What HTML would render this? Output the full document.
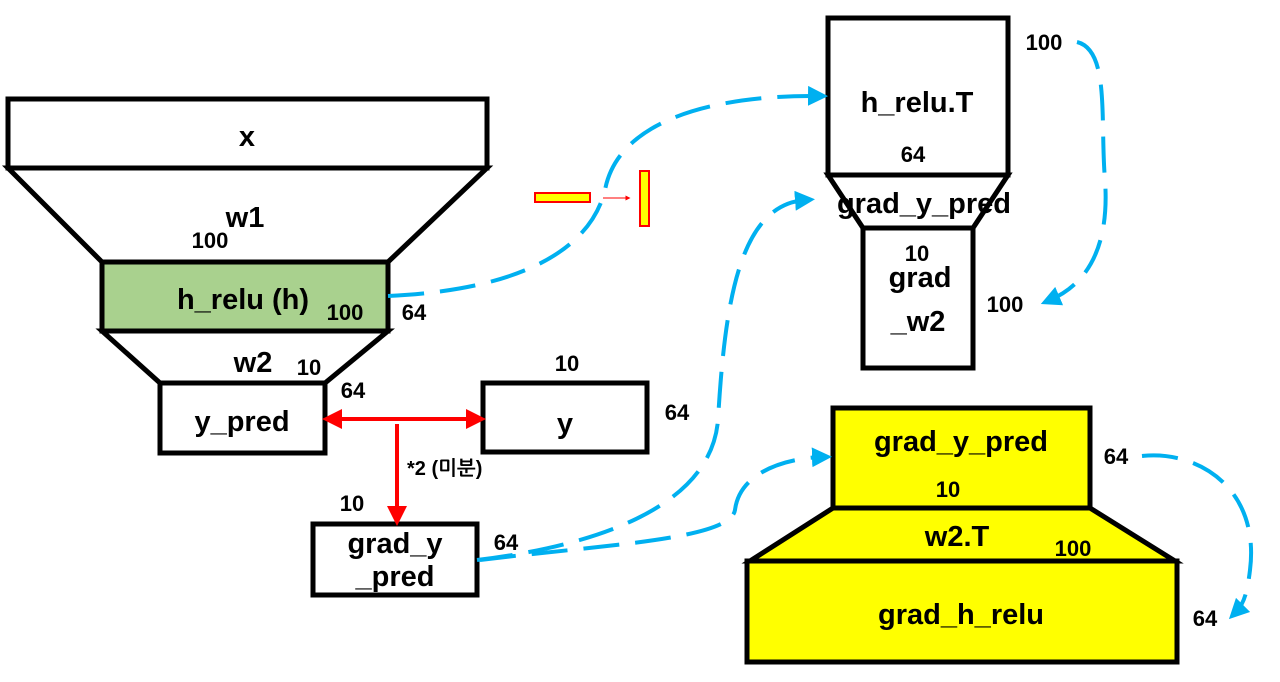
<!DOCTYPE html>
<html><head><meta charset="utf-8"><style>
body{margin:0;background:#fff}
svg text{font-family:"Liberation Sans","NanumGothic",sans-serif;font-weight:bold;fill:#000}
</style></head><body>
<svg width="1280" height="677" viewBox="0 0 1280 677" xmlns="http://www.w3.org/2000/svg">
<defs>
<marker id="bl" markerWidth="5" markerHeight="5" refX="2.5" refY="2.5" orient="auto" markerUnits="strokeWidth"><path d="M0,0 L5,2.5 L0,5 z" fill="#00b0f0"/></marker>
<marker id="rd" markerWidth="5" markerHeight="5" refX="2.5" refY="2.5" orient="auto-start-reverse" markerUnits="strokeWidth"><path d="M0,0 L5,2.5 L0,5 z" fill="#f00"/></marker>
</defs>
<g stroke="#000" stroke-width="5" fill="#fff" stroke-linejoin="miter">
<rect x="8" y="99" width="479" height="69"/>
<polygon points="8,168 487,168 388,262 102,262"/>
<rect x="102" y="262" width="286" height="69" fill="#a9d18e"/>
<polygon points="102,331 388,331 325,383 160,383"/>
<rect x="160" y="383" width="165" height="70"/>
<rect x="483" y="383" width="164" height="69"/>
<rect x="313" y="524" width="164" height="71"/>
<rect x="828" y="18" width="180" height="157"/>
<polygon points="828,175 1008,175 973,228 863,228"/>
<rect x="863" y="228" width="110" height="140"/>
<rect x="833" y="408" width="257" height="100" fill="#ff0"/>
<polygon points="833,508 1090,508 1175,561 750,561" fill="#ff0"/>
<rect x="747" y="561" width="430" height="101" fill="#ff0"/>
</g>
<rect x="535" y="193" width="55" height="9" fill="#ff0" stroke="#f00" stroke-width="2"/>
<rect x="640" y="171" width="9" height="55" fill="#ff0" stroke="#f00" stroke-width="2"/>
<line x1="603" y1="198" x2="628" y2="198" stroke="#f00" stroke-width="1" marker-end="url(#rd)"/>
<g stroke="#00b0f0" stroke-width="4" fill="none" stroke-dasharray="36 16">
<path d="M388,296 C520,290 590,250 605,190 C620,110 740,95 818,96" marker-end="url(#bl)"/>
<path d="M477,560 C560,550 710,520 718,420 C725,300 740,205 805,200" marker-end="url(#bl)"/>
<path d="M480,560 C600,545 730,540 735,510 C740,470 790,458 822,457" marker-end="url(#bl)"/>
<path d="M1077,42 C1110,50 1100,120 1105,180 C1110,250 1085,285 1050,300" marker-end="url(#bl)"/>
<path d="M1142,456 C1200,450 1260,490 1250,570 C1247,595 1243,605 1236,612" marker-end="url(#bl)"/>
</g>
<line x1="332" y1="419" x2="476" y2="419" stroke="#f00" stroke-width="4" marker-start="url(#rd)" marker-end="url(#rd)"/>
<line x1="397" y1="424" x2="397" y2="516" stroke="#f00" stroke-width="4" marker-end="url(#rd)"/>
<g font-size="29" text-anchor="middle">
<text x="247" y="146">x</text>
<text x="245" y="227">w1</text>
<text x="243" y="309">h_relu (h)</text>
<text x="253" y="372">w2</text>
<text x="242" y="431">y_pred</text>
<text x="565" y="433">y</text>
<text x="395" y="553">grad_y</text>
<text x="395" y="586">_pred</text>
<text x="917" y="112">h_relu.T</text>
<text x="924" y="213">grad_y_pred</text>
<text x="920" y="287">grad</text>
<text x="918" y="331">_w2</text>
<text x="961" y="451">grad_y_pred</text>
<text x="957" y="546">w2.T</text>
<text x="961" y="624">grad_h_relu</text>
</g>
<g font-size="22" text-anchor="middle">
<text x="210" y="248">100</text>
<text x="345" y="320">100</text>
<text x="414" y="320">64</text>
<text x="309" y="375">10</text>
<text x="353" y="398">64</text>
<text x="567" y="371">10</text>
<text x="677" y="420">64</text>
<text x="352" y="511">10</text>
<text x="506" y="550">64</text>
<text x="913" y="162">64</text>
<text x="1044" y="50">100</text>
<text x="917" y="261">10</text>
<text x="1005" y="312">100</text>
<text x="1116" y="464">64</text>
<text x="948" y="497">10</text>
<text x="1073" y="556">100</text>
<text x="1205" y="626">64</text>
</g>
<text x="407" y="475" font-size="20">*2 (미분)</text>
</svg>
</body></html>
